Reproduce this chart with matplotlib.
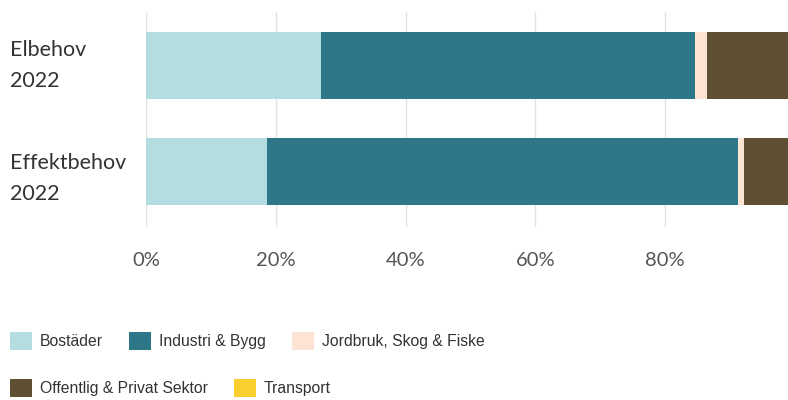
import matplotlib
matplotlib.use("Agg")
import matplotlib.pyplot as plt
from matplotlib.patches import Patch
from matplotlib import font_manager
from matplotlib.font_manager import FontProperties
from matplotlib.ticker import PercentFormatter
from matplotlib.transforms import ScaledTranslation

# Shares (%) of electricity demand per sector
categories = ["Elbehov\n2022", "Effektbehov\n2022"]
sectors = ["Bostäder", "Industri & Bygg", "Jordbruk, Skog & Fiske",
           "Offentlig & Privat Sektor", "Transport"]
bostader = [27.0, 18.6]
industri = [57.6, 72.6]
jordbruk = [1.8, 0.9]
offentlig = [13.0, 7.5]
transport = [0.6, 0.4]
xticks = [0, 20, 40, 60, 80]

colors = ["#b3dde0", "#2e7789", "#fde3d3", "#5f5034", "#f8cf2c"]

names = {f.name for f in font_manager.fontManager.ttflist}
label_font = "Lato" if "Lato" in names else "DejaVu Sans"
legend_prop = FontProperties(family=["Liberation Sans", "DejaVu Sans"], size=11.3)

W, H = 788, 400
fig = plt.figure(figsize=(W / 100, H / 100), dpi=100)

# axes spans 0..100% horizontally; the right end runs past the canvas edge
left_px, right_px, top_px, bottom_px = 146, 795, 12, 227
ax = fig.add_axes([left_px / W, 1 - bottom_px / H,
                   (right_px - left_px) / W, (bottom_px - top_px) / H])

series = [bostader, industri, jordbruk, offentlig, transport]
ypos = list(range(len(categories)))
base = [0.0] * len(categories)
for vals, col, name in zip(series, colors, sectors):
    ax.barh(ypos, vals, left=base, height=0.63, color=col, label=name,
            edgecolor="none", zorder=3)
    base = [b + v for b, v in zip(base, vals)]

ax.set_xlim(0, 100)
ax.set_ylim(1.524, -0.505)
ax.set_xticks(xticks)
ax.xaxis.set_major_formatter(PercentFormatter(decimals=0))
ax.grid(axis="x", color="#e3e3e3", linewidth=1.0, zorder=0)
ax.set_axisbelow(True)
for s in ax.spines.values():
    s.set_visible(False)
ax.set_yticks([])
ax.tick_params(axis="x", length=0, pad=18, labelsize=14.5, labelcolor="#555555")
for t in ax.get_xticklabels():
    t.set_family(label_font)

# category labels, left-aligned near the canvas edge
label_x = (10 - left_px) / (right_px - left_px)
label_drop_px = [0, 7]
for y, cat, dy in zip(ypos, categories, label_drop_px):
    tr = ax.get_yaxis_transform() + ScaledTranslation(0, -dy / 100, fig.dpi_scale_trans)
    ax.text(label_x, y, cat, transform=tr, ha="left", va="center",
            multialignment="left", fontsize=15.5, family=label_font,
            color="#333333", linespacing=1.7)

handles = [Patch(facecolor=c, edgecolor="none") for c in colors]
fs_px = legend_prop.get_size() * 100 / 72
common = dict(frameon=False, handlelength=22 / fs_px, handleheight=23 / fs_px,
              handletextpad=8 / fs_px, columnspacing=26 / fs_px,
              borderpad=0, borderaxespad=0, prop=legend_prop)
leg1 = fig.legend(handles[:3], sectors[:3], ncol=3, loc="center left",
                  bbox_to_anchor=(10 / W, 1 - 341 / H), **common)
leg2 = fig.legend(handles[3:], sectors[3:], ncol=2, loc="center left",
                  bbox_to_anchor=(10 / W, 1 - 388 / H), **common)
for leg in (leg1, leg2):
    for t in leg.get_texts():
        t.set_color("#333333")

fig.savefig("out.png", dpi=100)
